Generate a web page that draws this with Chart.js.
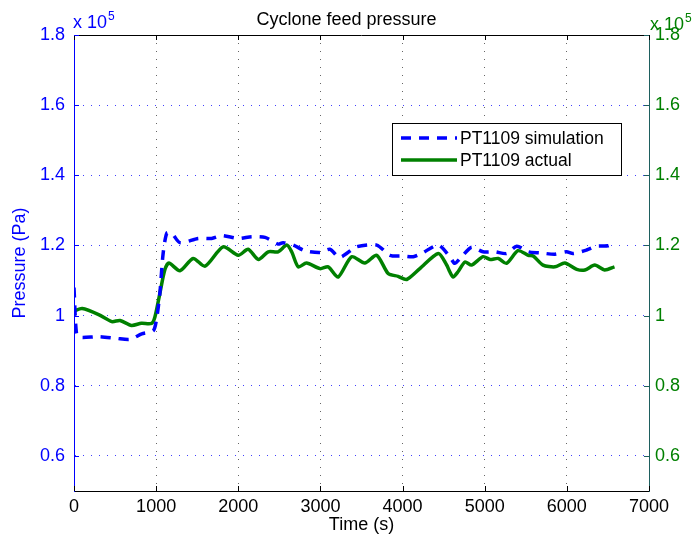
<!DOCTYPE html>
<html>
<head>
<meta charset="utf-8">
<title>Cyclone feed pressure</title>
<script src="https://cdn.jsdelivr.net/npm/chart.js@4.4.1/dist/chart.umd.min.js"></script>
<style>
  html, body { margin: 0; padding: 0; background: #fff; }
  #wrap { width: 693px; height: 542px; }
</style>
</head>
<body>
<div id="wrap"><canvas id="pressChart" width="693" height="542"></canvas></div>
<script>
const FONT = "'Liberation Sans', Arial, Helvetica, sans-serif";
const BLUE = "rgb(0, 0, 255)";
const GREEN = "rgb(0, 128, 0)";
const TEAL = "#1e5f5f";

// time axis (s)
const timeTicks = [0, 1000, 2000, 3000, 4000, 5000, 6000, 7000];
// pressure axis, in units of 1e5 Pa
const pressTicks = [0.6, 0.8, 1.0, 1.2, 1.4, 1.6, 1.8];
const pressTickLabels = ["0.6", "0.8", "1", "1.2", "1.4", "1.6", "1.8"];

// PT1109 simulation
const simTime = [0, 30, 75, 300, 520, 680, 825, 965, 1005, 1045,
  1085, 1130, 1190, 1290, 1510, 1675, 1800, 2000, 2165, 2325,
  2485, 2545, 2670, 2810, 2995, 3115, 3235, 3440, 3685, 3845,
  4010, 4130, 4230, 4435, 4575, 4635, 4720, 4840, 4980, 5125,
  5265, 5390, 5530, 5670, 5855, 5995, 6075, 6240, 6360, 6500, 6585];
const simPress = [1.08, 0.95, 0.938, 0.94, 0.935, 0.932, 0.948, 0.957, 0.99, 1.063,
  1.177, 1.235, 1.235, 1.208, 1.22, 1.22, 1.228, 1.22, 1.225, 1.223,
  1.204, 1.208, 1.201, 1.185, 1.18, 1.189, 1.166, 1.196, 1.201, 1.172,
  1.17, 1.168, 1.177, 1.201, 1.168, 1.149, 1.168, 1.195, 1.182, 1.182,
  1.177, 1.198, 1.182, 1.179, 1.175, 1.182, 1.177, 1.187, 1.198, 1.199, 1.208];

// PT1109 actual
const actTime = [0, 100, 300, 460, 560, 700, 820, 945, 985, 1045,
  1105, 1155, 1290, 1450, 1595, 1815, 2000, 2120, 2245, 2365,
  2485, 2590, 2650, 2730, 2830, 2995, 3095, 3215, 3380, 3540,
  3685, 3825, 3945, 4050, 4210, 4435, 4535, 4575, 4615, 4675,
  4760, 4840, 4980, 5065, 5165, 5265, 5405, 5530, 5590, 5710,
  5855, 5975, 6120, 6220, 6340, 6460, 6580];
const actPress = [1.013, 1.02, 1.003, 0.983, 0.986, 0.972, 0.978, 0.978, 0.996, 1.063,
  1.13, 1.15, 1.128, 1.163, 1.141, 1.196, 1.172, 1.189, 1.16, 1.182,
  1.182, 1.201, 1.182, 1.139, 1.15, 1.134, 1.139, 1.11, 1.168, 1.15,
  1.172, 1.12, 1.112, 1.103, 1.134, 1.177, 1.145, 1.125, 1.11, 1.125,
  1.153, 1.144, 1.168, 1.16, 1.163, 1.149, 1.185, 1.172, 1.17, 1.144,
  1.139, 1.15, 1.132, 1.13, 1.144, 1.13, 1.139];

const toPoints = (xs, ys) => xs.map((x, i) => ({ x: x, y: ys[i] }));
const pressLabel = (v) => pressTickLabels[pressTicks.findIndex((p) => Math.abs(p - v) < 1e-6)];

// matlab style extras: inward ticks, top border, exponent labels, boxed legend
const matlabBits = {
  id: "matlabBits",
  afterDraw(chart) {
    const ctx = chart.ctx;
    const a = chart.chartArea;
    const sx = chart.scales.x;
    const sy = chart.scales.y;
    const tick = 5;
    ctx.save();

    // top border
    ctx.strokeStyle = "#000";
    ctx.lineWidth = 1;
    ctx.beginPath();
    ctx.moveTo(a.left, a.top + 0.5);
    ctx.lineTo(a.right, a.top + 0.5);
    ctx.stroke();

    // inward ticks on top and bottom
    timeTicks.forEach((t) => {
      const px = Math.round(sx.getPixelForValue(t)) + 0.5;
      ctx.beginPath();
      ctx.moveTo(px, a.bottom);
      ctx.lineTo(px, a.bottom - tick);
      ctx.moveTo(px, a.top);
      ctx.lineTo(px, a.top + tick);
      ctx.stroke();
    });
    // inward ticks left (blue) and right (teal)
    pressTicks.forEach((v) => {
      const py = Math.round(sy.getPixelForValue(v)) + 0.5;
      ctx.strokeStyle = BLUE;
      ctx.beginPath();
      ctx.moveTo(a.left, py);
      ctx.lineTo(a.left + tick, py);
      ctx.stroke();
      ctx.strokeStyle = TEAL;
      ctx.beginPath();
      ctx.moveTo(a.right, py);
      ctx.lineTo(a.right - tick, py);
      ctx.stroke();
    });

    // x 10^5 exponents
    ctx.textBaseline = "alphabetic";
    ctx.textAlign = "left";
    const expo = (x, y, color) => {
      ctx.fillStyle = color;
      ctx.font = "18px " + FONT;
      ctx.fillText("x 10", x, y);
      const w = ctx.measureText("x 10").width;
      ctx.font = "12px " + FONT;
      ctx.fillText("5", x + w + 1, y - 8);
    };
    expo(a.left - 1, 28, BLUE);
    expo(a.right + 1, 30, GREEN);

    // legend box
    const lx = 392, ly = 123, lw = 229, lh = 52;
    ctx.fillStyle = "#fff";
    ctx.fillRect(lx, ly, lw, lh);
    ctx.strokeStyle = "#000";
    ctx.lineWidth = 1;
    ctx.strokeRect(lx + 0.5, ly + 0.5, lw, lh);
    chart.data.datasets.forEach((ds, i) => {
      const cy = ly + 15 + i * 22;
      ctx.save();
      ctx.strokeStyle = ds.borderColor;
      ctx.lineWidth = ds.borderWidth;
      ctx.setLineDash(ds.borderDash || []);
      ctx.beginPath();
      ctx.moveTo(401, cy);
      ctx.lineTo(457, cy);
      ctx.stroke();
      ctx.restore();
      ctx.fillStyle = "#000";
      ctx.font = "17.5px " + FONT;
      ctx.textBaseline = "middle";
      ctx.fillText(ds.label, 460, cy + 1);
    });
    ctx.restore();
  }
};

new Chart(document.getElementById("pressChart"), {
  type: "line",
  data: {
    datasets: [
      {
        label: "PT1109 simulation",
        data: toPoints(simTime, simPress),
        borderColor: BLUE,
        borderWidth: 3.5,
        borderDash: [10, 8],
        pointRadius: 0,
        tension: 0.25,
        yAxisID: "y"
      },
      {
        label: "PT1109 actual",
        data: toPoints(actTime, actPress),
        borderColor: GREEN,
        borderWidth: 3.5,
        pointRadius: 0,
        tension: 0.25,
        yAxisID: "y"
      }
    ]
  },
  options: {
    responsive: false,
    animation: false,
    devicePixelRatio: 1,
    layout: { padding: 0 },
    plugins: {
      legend: { display: false },
      tooltip: { enabled: false },
      title: {
        display: true,
        text: "Cyclone feed pressure",
        color: "#000",
        font: { family: FONT, size: 18, weight: "normal" },
        padding: { top: 9, bottom: 4.4 }
      }
    },
    scales: {
      x: {
        type: "linear",
        min: 0,
        max: 7000,
        afterBuildTicks: (s) => { s.ticks = timeTicks.map((v) => ({ value: v })); },
        afterFit: (s) => { s.height = 51; },
        ticks: {
          color: "#000",
          font: { family: FONT, size: 18 },
          padding: 5,
          maxRotation: 0,
          callback: (v) => String(v)
        },
        grid: { color: "rgba(0,0,0,0.6)", drawTicks: false },
        border: { color: "#000", width: 1, dash: [1, 7] },
        title: {
          display: true,
          text: "Time (s)",
          color: "#000",
          font: { family: FONT, size: 18 },
          padding: { top: 0, bottom: 6 }
        }
      },
      y: {
        type: "linear",
        position: "left",
        min: 0.5,
        max: 1.8,
        afterBuildTicks: (s) => { s.ticks = pressTicks.map((v) => ({ value: v })); },
        afterFit: (s) => { s.width = 74; },
        ticks: {
          color: BLUE,
          font: { family: FONT, size: 18 },
          padding: 9,
          callback: pressLabel
        },
        grid: { color: "rgba(0,0,255,0.75)", drawTicks: false },
        border: { color: BLUE, width: 1, dash: [1, 7] },
        title: {
          display: true,
          text: "Pressure (Pa)",
          color: BLUE,
          font: { family: FONT, size: 18 },
          padding: { top: 9.5, bottom: 0 }
        }
      },
      y2: {
        type: "linear",
        position: "right",
        min: 0.5,
        max: 1.8,
        afterBuildTicks: (s) => { s.ticks = pressTicks.map((v) => ({ value: v })); },
        afterFit: (s) => { s.width = 44; },
        ticks: {
          color: GREEN,
          font: { family: FONT, size: 18 },
          padding: 6,
          callback: pressLabel
        },
        grid: { display: false, drawTicks: false },
        border: { color: TEAL, width: 1 }
      }
    }
  },
  plugins: [matlabBits]
});
</script>
</body>
</html>
